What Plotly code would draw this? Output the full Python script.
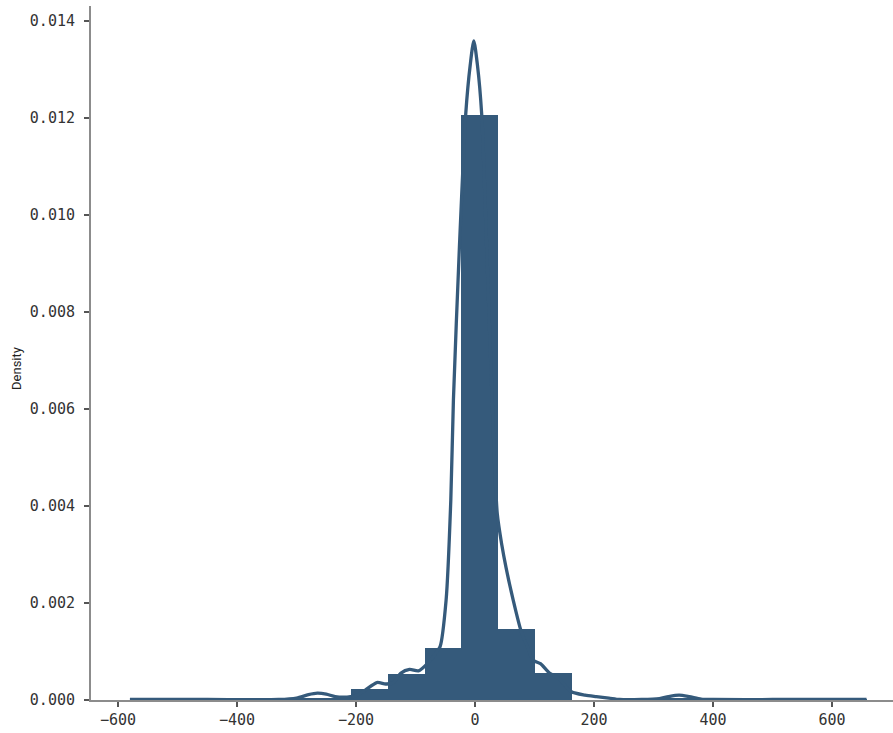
import numpy as np
import plotly.graph_objects as go

# Histogram bin edges (20 equal bins) and bar densities
bin_edges = [-580.0, -518.1, -456.2, -394.3, -332.4, -270.5, -208.6, -146.7, -84.8, -22.9,
             39.0, 100.9, 162.8, 224.7, 286.6, 348.5, 410.4, 472.3, 534.2, 596.1, 658.0]
bin_density = [0.00002, 0.0, 0.0, 0.0, 0.00003, 0.00003, 0.00022, 0.000535, 0.00107, 0.01206,
               0.00146, 0.00055, 0.0, 0.0, 0.00003, 0.00003, 0.0, 0.0, 0.0, 0.00002]

# KDE curve points
kde_x = [-580, -450, -330, -300, -280, -265, -250, -235, -215, -200, -185, -165, -150, -138,
         -125, -110, -95, -80, -70, -58.7, -48.6, -40.7, -36.3, -26.4, -15.6, -8, -2, 4, 11.2,
         20, 30, 37.4, 45, 52, 64.2, 77, 88, 97.8, 110, 125.7, 140, 162, 185, 204, 225, 243,
         280, 310, 325, 343, 360, 380, 400, 500, 658]
kde_y = [0.00001, 0.00001, 0.00001, 0.00004, 0.00011, 0.00014, 0.00012, 0.00007, 0.00006,
         0.00009, 0.00020, 0.00036, 0.00033, 0.00035, 0.00055, 0.00063, 0.00060, 0.00075,
         0.00090, 0.00110, 0.00206, 0.00412, 0.00618, 0.00928, 0.01208, 0.01310, 0.01359,
         0.01310, 0.01208, 0.00920, 0.00580, 0.00384, 0.00320, 0.00274, 0.00206, 0.00144,
         0.00110, 0.00082, 0.00075, 0.00055, 0.00045, 0.00017, 0.00010, 0.00007, 0.00004,
         0.00001, 0.00001, 0.00003, 0.00007, 0.00010, 0.00007, 0.00002, 0.00001, 0.00001,
         0.00001]

x_ticks = [-600, -400, -200, 0, 200, 400, 600]
y_ticks = [0.000, 0.002, 0.004, 0.006, 0.008, 0.010, 0.012, 0.014]
y_label = "Density"

COLOR = "#355a7b"

edges = np.array(bin_edges)
centers = (edges[:-1] + edges[1:]) / 2
widths = np.diff(edges)

fig = go.Figure()
fig.add_trace(go.Bar(x=centers, y=bin_density, width=widths,
                     marker=dict(color=COLOR, line=dict(width=0)),
                     hoverinfo="skip", showlegend=False))
fig.add_trace(go.Scatter(x=kde_x, y=kde_y, mode="lines",
                         line=dict(color=COLOR, width=3.3, shape="spline", smoothing=0.7),
                         hoverinfo="skip", showlegend=False))

tick_font = dict(family="DejaVu Sans Mono", size=15, color="#333333")

fig.update_layout(
    width=893, height=733,
    margin=dict(l=91, r=0, t=6, b=33),
    plot_bgcolor="white", paper_bgcolor="white",
    bargap=0,
    xaxis=dict(range=[-645.4, 702.5], tickvals=x_ticks, showgrid=False, zeroline=False,
               showline=True, linecolor="#8c8c8c", linewidth=2,
               ticks="outside", ticklen=5, tickwidth=1.5, tickcolor="#555555",
               tickfont=tick_font),
    yaxis=dict(range=[0, 0.01431], tickvals=y_ticks, tickformat=".3f",
               showgrid=False, zeroline=False,
               showline=True, linecolor="#8c8c8c", linewidth=2,
               ticks="outside", ticklen=5, tickwidth=1.5, tickcolor="#555555",
               tickfont=tick_font, ticklabelstandoff=6),
    annotations=[dict(text=y_label, xref="paper", yref="paper", x=0, y=0.477,
                      xanchor="center", yanchor="middle", xshift=-74, textangle=-90,
                      showarrow=False,
                      font=dict(family="Roboto", size=13, color="#222222"))],
)

fig.write_html("out.html", config={"displayModeBar": False},
               post_script="document.body.style.margin='0px';document.body.style.padding='0px';")
